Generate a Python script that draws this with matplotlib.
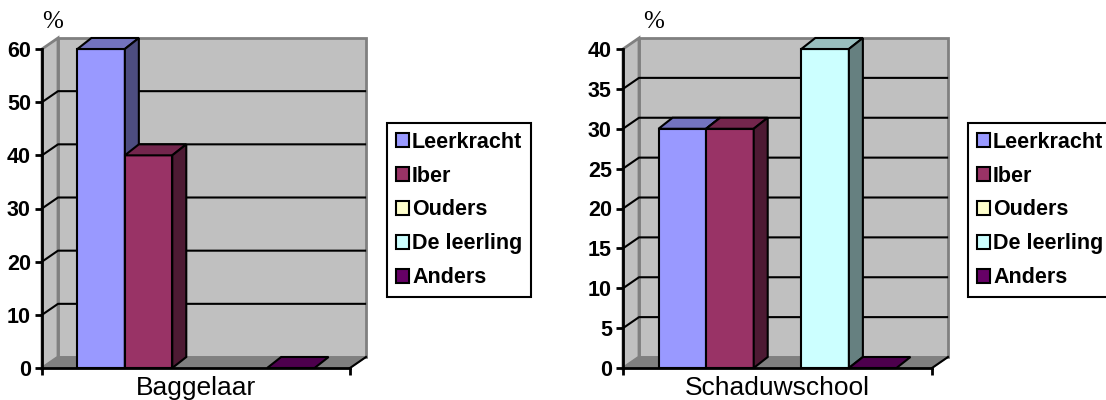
import numpy as np
import matplotlib.pyplot as plt
from matplotlib.patches import Polygon, Patch
from matplotlib.colors import to_rgb

plt.rcParams['font.family'] = ['Liberation Sans', 'DejaVu Sans']

# gegevens
series = ['Leerkracht', 'Iber', 'Ouders', 'De leerling', 'Anders']
colors = ['#9999FF', '#993366', '#FFFFCC', '#CCFFFF', '#660066']
baggelaar = [60, 40, np.nan, np.nan, 0]
schaduwschool = [30, 30, np.nan, 40, 0]
yticks_left = [0, 10, 20, 30, 40, 50, 60]
yticks_right = [0, 5, 10, 15, 20, 25, 30, 35, 40]

W, H = 1106, 400
fig = plt.figure(figsize=(W / 100, H / 100), dpi=100)


def shade(c, f):
    r, g, b = to_rgb(c)
    return (r * f, g * f, b * f)


def poly(ax, pts, fc, ec='black', lw=1.5, z=2):
    ax.add_patch(Polygon(pts, closed=True, facecolor=fc, edgecolor=ec,
                         lw=lw, joinstyle='miter', zorder=z, clip_on=False))


def panel(rect, values, ticks, category):
    ax = fig.add_axes(rect)
    ymax = ticks[-1]
    ax.set_xlim(0, 1)
    ax.set_ylim(0, ymax)
    ax.set_facecolor('none')
    # pixel -> data
    wpx = rect[2] * W
    hpx = rect[3] * H
    px = 1.0 / wpx
    py = ymax / hpx
    wdx, wdy = 16 * px, 11 * py   # diepte wanden
    bdx, bdy = 14 * px, 11 * py   # diepte staven

    # achterwand, zijwand, vloer
    poly(ax, [(wdx, wdy), (1 + wdx, wdy), (1 + wdx, ymax + wdy), (wdx, ymax + wdy)],
         '#C0C0C0', '#808080', 2, 0)
    poly(ax, [(0, 0), (0, ymax), (wdx, ymax + wdy), (wdx, wdy)],
         '#C0C0C0', '#808080', 2, 0)
    poly(ax, [(0, 0), (1, 0), (1 + wdx, wdy), (wdx, wdy)], '#808080', '#808080', 1, 0)
    ax.plot([1, 1 + wdx], [0, wdy], color='black', lw=1.5, zorder=1, clip_on=False)

    # rasterlijnen
    for t in ticks[1:-1]:
        ax.plot([0, wdx, 1 + wdx - 0.003], [t, t + wdy, t + wdy], color='black',
                lw=1.5, zorder=1, clip_on=False)

    # staven
    n = len(values)
    bw = (1 - 2 * 0.115) / n
    for i, v in enumerate(values):
        if np.isnan(v):
            continue
        x0 = 0.115 + i * bw
        x1 = x0 + bw
        c = colors[i]
        poly(ax, [(x0, 0), (x1, 0), (x1, v), (x0, v)], c, z=3 + i)
        poly(ax, [(x0, v), (x1, v), (x1 + bdx, v + bdy), (x0 + bdx, v + bdy)],
             shade(c, 0.75), z=3 + i)
        if v > 0:
            poly(ax, [(x1, 0), (x1 + bdx, bdy), (x1 + bdx, v + bdy), (x1, v)],
                 shade(c, 0.5), z=3 + i)

    for s in ['top', 'right']:
        ax.spines[s].set_visible(False)
    for s in ['left', 'bottom']:
        ax.spines[s].set_linewidth(2)
        ax.spines[s].set_zorder(20)
    ax.set_yticks(ticks)
    ax.set_yticklabels([str(t) for t in ticks], fontsize=15.5, fontweight='bold')
    ax.set_xticks([0, 1])
    ax.set_xticklabels(['', ''])
    ax.tick_params(direction='out', length=5, width=2, pad=3)
    ax.annotate(category, xy=(0.5, 0), xycoords='data', xytext=(0, -6),
                textcoords='offset points', ha='center', va='top', fontsize=19)
    return ax


panel([42 / W, 32 / H, 308 / W, 319 / H], baggelaar, yticks_left, 'Baggelaar')
panel([623 / W, 32 / H, 309 / W, 319 / H], schaduwschool, yticks_right, 'Schaduwschool')

for xp in [42, 643]:
    fig.text(xp / W, 1 - 11 / H, '%', fontsize=18, family='Liberation Serif',
             ha='left', va='top')

handles = [Patch(facecolor=c, edgecolor='black', lw=1.5) for c in colors]
for xl in [387, 968]:
    leg = fig.legend(handles, series, loc='upper left',
                     bbox_to_anchor=(xl / W, 1 - 123 / H), bbox_transform=fig.transFigure,
                     prop={'size': 15.5, 'weight': 'bold'}, frameon=True, fancybox=False,
                     framealpha=1, edgecolor='black', handlelength=0.6,
                     handleheight=0.6, handletextpad=0.16, borderpad=0.4,
                     labelspacing=0.6, borderaxespad=0)
    leg.get_frame().set_linewidth(1.5)

fig.savefig('out.png', dpi=100)
